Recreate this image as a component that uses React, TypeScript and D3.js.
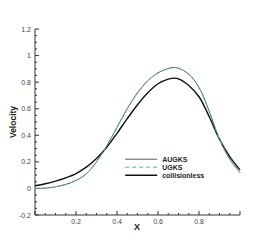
import React from "react";
import * as d3 from "d3";

// x positions shared by the three profiles
const xs = [0, 0.05, 0.1, 0.15, 0.2, 0.25, 0.3, 0.35, 0.4, 0.45, 0.5, 0.55, 0.6, 0.65, 0.68, 0.7, 0.75, 0.8, 0.85, 0.9, 0.95, 1.0];
const augks = [0.0, 0.002, 0.012, 0.03, 0.06, 0.11, 0.2, 0.32, 0.46, 0.6, 0.72, 0.81, 0.87, 0.903, 0.91, 0.905, 0.86, 0.76, 0.58, 0.37, 0.22, 0.12];
const ugks = [0.0, 0.002, 0.012, 0.03, 0.06, 0.11, 0.2, 0.32, 0.46, 0.6, 0.72, 0.81, 0.87, 0.903, 0.91, 0.905, 0.86, 0.76, 0.58, 0.37, 0.22, 0.12];
const collisionless = [0.02, 0.035, 0.055, 0.08, 0.112, 0.16, 0.225, 0.31, 0.415, 0.525, 0.63, 0.72, 0.788, 0.823, 0.83, 0.825, 0.775, 0.69, 0.54, 0.37, 0.24, 0.14];

const xTickLabels = [0.2, 0.4, 0.6, 0.8];
const yTickLabels = [-0.2, 0, 0.2, 0.4, 0.6, 0.8, 1, 1.2];
const legendNames = ["AUGKS", "UGKS", "collisionless"];

const W = 273, H = 242;
const x = d3.scaleLinear().domain([0, 1]).range([35, 240]);
const y = d3.scaleLinear().domain([-0.2, 1.2]).range([215, 29]);

const line = d3.line<number>()
  .x((_, i) => x(xs[i]))
  .y(d => y(d))
  .curve(d3.curveCatmullRom.alpha(0.5));

const series = [
  { name: legendNames[0], values: augks, color: "#5a5a5a", width: 1, dash: undefined },
  { name: legendNames[1], values: ugks, color: "#3fb3b3", width: 1, dash: "4,3" },
  { name: legendNames[2], values: collisionless, color: "#111", width: 1.4, dash: undefined },
];

export default function App() {
  const font = "Liberation Sans, Arial, sans-serif";
  const xMinor = d3.range(0, 1.0001, 0.05);
  const yMinor = d3.range(-0.2, 1.2001, 0.05);
  const legendX = x(0.44), legendY = y(0.22);
  return (
    <svg width={W} height={H} style={{ position: "absolute", left: 0, top: 0, background: "#fff" }} fontFamily={font}>
      {/* axes */}
      <line x1={x(0)} x2={x(0)} y1={y(-0.2)} y2={y(1.2)} stroke="#333" strokeWidth={1} />
      <line x1={x(0)} x2={x(1)} y1={y(-0.2)} y2={y(-0.2)} stroke="#333" strokeWidth={1} />
      {xMinor.map((v, i) => (
        <line key={"xm" + i} x1={x(v)} x2={x(v)} y1={y(-0.2)} y2={y(-0.2) - (i % 4 === 0 ? 4 : 2)} stroke="#333" />
      ))}
      {yMinor.map((v, i) => (
        <line key={"ym" + i} x1={x(0)} x2={x(0) + (i % 4 === 0 ? 4 : 2)} y1={y(v)} y2={y(v)} stroke="#333" />
      ))}
      {xTickLabels.map(v => (
        <text key={"xt" + v} x={x(v)} y={y(-0.2) + 8.5} fontSize={7} fill="#444" textAnchor="middle">{v}</text>
      ))}
      {yTickLabels.map(v => (
        <text key={"yt" + v} x={x(0) - 4} y={y(v) + 2.5} fontSize={7} fill="#444" textAnchor="end">{v}</text>
      ))}
      <text x={137} y={230} fontSize={9} fontWeight="bold" textAnchor="middle" fill="#222">X</text>
      <text transform={`translate(16,${y(0.5)}) rotate(-90)`} fontSize={8.5} fontWeight="bold" textAnchor="middle" fill="#222">Velocity</text>
      {/* curves */}
      {[series[2], series[0], series[1]].map(s => (
        <path key={s.name} d={line(s.values) || ""} fill="none" stroke={s.color} strokeWidth={s.width} strokeDasharray={s.dash} />
      ))}
      {/* legend */}
      {series.map((s, i) => (
        <g key={"lg" + s.name} transform={`translate(${legendX},${legendY + i * 8})`}>
          <line x1={0} x2={32} y1={0} y2={0} stroke={s.color} strokeWidth={s.width} strokeDasharray={s.dash} />
          <text x={37} y={2.5} fontSize={7} fontWeight="bold" fill="#222">{s.name}</text>
        </g>
      ))}
    </svg>
  );
}
